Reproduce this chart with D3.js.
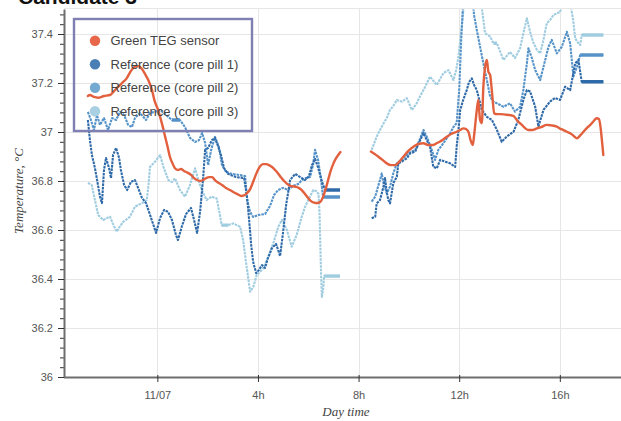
<!DOCTYPE html>
<html>
<head>
<meta charset="utf-8">
<script src="https://cdn.jsdelivr.net/npm/d3@7"></script>
<style>
  html, body { margin: 0; padding: 0; background: #fff; }
  svg { display: block; }
</style>
</head>
<body>
<svg id="chart" width="621" height="421"></svg>
<script>
// Hours are counted from midnight of 11/07; a null temperature marks a recording gap.
const seriesNames = ["Green TEG sensor", "Reference (core pill 1)", "Reference (core pill 2)", "Reference (core pill 3)"];
const seriesColors = ["#e2603d", "#2f6aa8", "#5592c8", "#a0cce0"];
const legendColors = ["#e8674a", "#4a7fb6", "#74a9d2", "#a9d0e2"];

const tegSensor = [
  [-2.76,37.147],[-2.68,37.151],[-2.52,37.143],[-2.36,37.140],[-2.12,37.147],[-1.88,37.151],[-1.72,37.167],
  [-1.56,37.184],[-1.40,37.200],[-1.22,37.219],[-1.05,37.249],[-0.89,37.267],[-0.73,37.269],[-0.61,37.257],
  [-0.49,37.237],[-0.36,37.212],[-0.21,37.171],[-0.12,37.131],[0.03,37.090],[0.11,37.062],[0.21,37.024],
  [0.31,36.981],[0.41,36.939],[0.50,36.899],[0.60,36.873],[0.70,36.852],[0.82,36.845],[0.94,36.849],
  [1.06,36.841],[1.18,36.835],[1.34,36.825],[1.46,36.812],[1.58,36.804],[1.70,36.800],[1.82,36.804],
  [1.94,36.812],[2.06,36.816],[2.18,36.816],[2.29,36.804],[2.41,36.794],[2.57,36.784],[2.73,36.771],
  [2.89,36.763],[3.05,36.753],[3.21,36.745],[3.33,36.739],[3.45,36.741],[3.57,36.751],[3.69,36.767],
  [3.79,36.792],[3.88,36.816],[3.98,36.841],[4.08,36.859],[4.20,36.869],[4.32,36.869],[4.44,36.865],
  [4.56,36.857],[4.68,36.845],[4.80,36.831],[4.92,36.814],[5.04,36.800],[5.16,36.788],[5.28,36.780],
  [5.40,36.778],[5.52,36.776],[5.64,36.771],[5.76,36.761],[5.87,36.747],[5.99,36.731],[6.11,36.718],
  [6.23,36.712],[6.35,36.710],[6.47,36.714],[6.59,36.735],[6.69,36.767],[6.79,36.804],[6.89,36.841],
  [6.99,36.869],[7.09,36.890],[7.19,36.906],[7.28,36.918],
  [7.90,null],
  [8.49,36.920],[8.64,36.910],[8.79,36.899],[8.95,36.886],[9.12,36.872],[9.29,36.865],[9.45,36.865],
  [9.61,36.878],[9.78,36.899],[9.97,36.922],[10.18,36.940],[10.37,36.951],[10.58,36.954],[10.76,36.947],
  [10.97,36.947],[11.12,36.955],[11.24,36.961],[11.38,36.971],[11.51,36.981],[11.68,36.992],[11.90,37.001],
  [12.04,37.008],[12.17,37.015],[12.27,37.012],[12.37,37.000],[12.45,36.967],[12.54,36.947],[12.59,36.984],
  [12.63,37.022],[12.70,37.090],[12.76,37.131],[12.80,37.082],[12.83,37.049],[12.90,37.036],[12.96,37.185],
  [13.03,37.267],[13.10,37.294],[13.16,37.246],[13.23,37.233],[13.28,37.188],[13.32,37.144],[13.39,37.076],
  [13.51,37.073],[13.63,37.073],[13.83,37.071],[14.02,37.069],[14.16,37.065],[14.29,37.049],[14.38,37.039],
  [14.49,37.029],[14.62,37.016],[14.75,37.008],[14.90,37.008],[15.09,37.015],[15.26,37.020],[15.48,37.029],
  [15.65,37.027],[15.88,37.022],[16.01,37.014],[16.14,37.008],[16.28,37.001],[16.41,36.995],[16.55,36.984],
  [16.68,36.974],[16.81,36.986],[16.94,37.001],[17.07,37.016],[17.21,37.029],[17.33,37.043],[17.47,37.056],
  [17.55,37.053],[17.60,37.033],[17.64,37.000],[17.68,36.959],[17.73,36.906]
];

const corePill1 = [
  [-2.76,37.049],[-2.68,36.967],[-2.60,36.906],[-2.48,36.853],[-2.36,36.784],[-2.28,36.735],[-2.20,36.710],
  [-2.12,36.845],[-2.04,36.894],[-1.92,36.853],[-1.84,36.812],[-1.76,36.906],[-1.64,36.935],[-1.52,36.894],
  [-1.45,36.845],[-1.32,36.784],[-1.20,36.763],[-1.05,36.796],[-0.89,36.804],[-0.73,36.763],[-0.61,36.731],
  [-0.45,36.710],[-0.33,36.674],[-0.17,36.625],[-0.05,36.588],[0.11,36.649],[0.27,36.682],[0.43,36.674],
  [0.58,36.641],[0.74,36.580],[0.82,36.559],[0.98,36.616],[1.14,36.665],[1.34,36.690],[1.46,36.641],
  [1.58,36.588],[1.70,36.674],[1.82,36.812],[1.90,36.927],[2.02,36.935],[2.17,36.967],[2.29,36.976],
  [2.41,36.943],[2.53,36.906],[2.65,36.853],[2.81,36.829],[3.13,36.816],[3.45,36.812],[3.57,36.731],
  [3.65,36.641],[3.73,36.539],[3.81,36.469],[3.93,36.424],[4.04,36.437],[4.16,36.457],[4.28,36.445],
  [4.40,36.486],[4.56,36.527],[4.72,36.543],[4.88,36.494],[5.00,36.592],[5.12,36.702],[5.28,36.804],
  [5.48,36.829],[5.68,36.816],[5.87,36.804],[6.03,36.820],[6.15,36.865],[6.27,36.890],[6.39,36.855],
  [6.55,36.796],[6.67,36.763],[7.26,36.763],
  [7.90,null],
  [8.52,36.648],[8.66,36.654],[8.72,36.709],[8.85,36.722],[8.99,36.777],[9.05,36.812],[9.12,36.755],
  [9.18,36.722],[9.25,36.709],[9.38,36.791],[9.52,36.817],[9.58,36.872],[9.72,36.879],[9.92,36.893],
  [10.05,36.913],[10.25,36.920],[10.45,36.967],[10.58,36.995],[10.71,36.967],[10.84,36.940],[10.97,36.858],
  [11.11,36.852],[11.24,36.886],[11.44,36.879],[11.64,36.872],[11.84,36.858],[11.90,36.940],[11.97,37.008],
  [12.04,37.090],[12.16,37.131],[12.30,37.171],[12.39,37.204],[12.50,37.219],[12.59,37.192],[12.70,37.171],
  [12.90,37.090],[13.10,37.062],[13.30,37.049],[13.50,37.008],[13.69,36.960],[13.89,36.981],[14.16,37.001],
  [14.35,37.049],[14.55,37.131],[14.69,37.171],[14.82,37.165],[15.02,37.103],[15.15,37.022],[15.35,37.090],
  [15.61,37.124],[15.81,37.139],[16.01,37.131],[16.21,37.185],[16.41,37.171],[16.61,37.280],[16.74,37.294],
  [16.87,37.205],[17.73,37.205]
];

const corePill2 = [
  [-2.76,37.082],[-2.64,37.049],[-2.52,37.008],[-2.40,37.069],[-2.28,37.029],[-2.12,37.057],[-1.96,37.008],
  [-1.80,37.057],[-1.64,37.049],[-1.48,37.082],[-1.32,37.069],[-1.16,37.029],[-1.01,37.020],[-0.89,37.057],
  [-0.69,37.078],[-0.45,37.049],[-0.29,37.078],[-0.09,37.082],[0.11,37.090],[0.35,37.069],[0.58,37.049],
  [0.90,37.049],[1.10,37.020],[1.30,36.976],[1.50,36.959],[1.66,36.967],[1.78,36.996],[1.90,36.955],
  [2.02,36.865],[2.14,36.927],[2.29,36.980],[2.45,36.939],[2.57,36.865],[2.73,36.837],[2.97,36.829],
  [3.29,36.824],[3.49,36.820],[3.57,36.722],[3.69,36.673],[3.81,36.653],[4.00,36.661],[4.28,36.665],
  [4.48,36.698],[4.64,36.743],[4.80,36.763],[5.00,36.772],[5.20,36.763],[5.40,36.780],[5.60,36.788],
  [5.75,36.804],[5.91,36.812],[6.07,36.816],[6.19,36.865],[6.27,36.927],[6.39,36.886],[6.51,36.804],
  [6.59,36.735],[7.26,36.735],
  [7.90,null],
  [8.52,36.716],[8.66,36.736],[8.85,36.804],[8.92,36.831],[8.99,36.791],[9.12,36.750],[9.25,36.777],
  [9.38,36.831],[9.52,36.872],[9.72,36.886],[9.98,36.913],[10.25,36.927],[10.45,36.974],[10.58,37.008],
  [10.71,36.981],[10.91,36.927],[11.04,36.886],[11.17,36.927],[11.37,36.954],[11.64,36.995],[11.77,37.020],
  [11.90,37.037],[12.00,37.171],[12.08,37.376],[12.16,37.539],[12.35,37.620],[12.51,37.559],[12.59,37.478],
  [12.70,37.416],[12.83,37.348],[12.96,37.280],[13.10,37.212],[13.23,37.144],[13.36,37.124],[13.50,37.117],
  [13.76,37.103],[14.02,37.117],[14.22,37.083],[14.42,37.103],[14.55,37.171],[14.69,37.280],[14.75,37.342],
  [14.89,37.301],[15.02,37.253],[15.22,37.212],[15.35,37.266],[15.55,37.348],[15.68,37.376],[15.88,37.321],
  [16.08,37.348],[16.28,37.409],[16.41,37.362],[16.54,37.226],[16.68,37.267],[16.81,37.314],[17.73,37.314]
];

const corePill3 = [
  [-2.76,36.792],[-2.61,36.784],[-2.48,36.722],[-2.35,36.661],[-2.15,36.641],[-2.00,36.649],[-1.88,36.654],
  [-1.76,36.624],[-1.61,36.593],[-1.48,36.616],[-1.35,36.634],[-1.20,36.645],[-1.09,36.654],[-0.89,36.695],
  [-0.62,36.709],[-0.42,36.722],[-0.35,36.784],[-0.29,36.858],[-0.09,36.879],[0.11,36.906],[0.24,36.858],
  [0.44,36.804],[0.58,36.796],[0.70,36.811],[0.90,36.763],[1.10,36.736],[1.30,36.784],[1.50,36.852],
  [1.63,36.804],[1.77,36.763],[1.96,36.722],[2.16,36.736],[2.36,36.729],[2.45,36.682],[2.56,36.620],
  [2.82,36.620],[3.02,36.627],[3.29,36.613],[3.41,36.559],[3.55,36.450],[3.69,36.348],[3.82,36.369],
  [3.95,36.416],[4.08,36.429],[4.21,36.444],[4.41,36.491],[4.61,36.546],[4.81,36.613],[4.95,36.641],
  [5.15,36.600],[5.34,36.532],[5.54,36.580],[5.74,36.654],[5.87,36.694],[6.00,36.722],[6.20,36.763],
  [6.31,36.759],[6.41,36.747],[6.45,36.661],[6.48,36.539],[6.51,36.416],[6.54,36.327],[6.59,36.355],
  [6.63,36.412],[7.26,36.412],
  [7.90,null],
  [8.52,36.927],[8.72,36.981],[8.85,37.008],[8.99,37.035],[9.12,37.057],[9.25,37.090],[9.38,37.106],
  [9.52,37.131],[9.72,37.124],[9.92,37.138],[10.12,37.090],[10.31,37.117],[10.45,37.147],[10.58,37.171],
  [10.84,37.226],[11.11,37.192],[11.37,37.240],[11.57,37.253],[11.77,37.212],[11.88,37.253],[11.97,37.307],
  [12.10,37.430],[12.19,37.518],[12.35,37.600],[12.59,37.620],[12.75,37.580],[12.90,37.505],[13.03,37.403],
  [13.23,37.389],[13.36,37.362],[13.50,37.362],[13.76,37.294],[14.02,37.327],[14.22,37.302],[14.42,37.342],
  [14.55,37.403],[14.69,37.464],[14.82,37.408],[14.94,37.367],[15.09,37.335],[15.22,37.321],[15.35,37.376],
  [15.48,37.444],[15.61,37.457],[15.75,37.478],[16.01,37.490],[16.14,37.539],[16.29,37.559],[16.41,37.531],
  [16.53,37.457],[16.61,37.382],[16.74,37.362],[16.81,37.355],[16.87,37.396],[17.73,37.396]
];

const xTickValues = [0, 4, 8, 12, 16];
const xTickLabels = ["11/07", "4h", "8h", "12h", "16h"];
const yTickValues = [36, 36.2, 36.4, 36.6, 36.8, 37, 37.2, 37.4];

const svg = d3.select("#chart");
const frame = { left: 64, right: 628, top: 9.5, bottom: 377 };

const x = d3.scaleLinear().domain([-3.71, 18.71]).range([frame.left, frame.right]);
const y = d3.scaleLinear().domain([36, 37.5]).range([frame.bottom, frame.top]);

// title, mostly above the visible frame
svg.append("text")
  .attr("x", 18).attr("y", 4)
  .attr("font-family", "Liberation Sans, Arial, sans-serif")
  .attr("font-weight", "bold").attr("font-size", 21)
  .attr("fill", "#111")
  .text("Candidate 3");

// grid
const grid = svg.append("g").attr("stroke", "#e6e6e6").attr("stroke-width", 1);
grid.append("line").attr("x1", frame.left).attr("x2", frame.right).attr("y1", 8.5).attr("y2", 8.5);
xTickValues.forEach(v => grid.append("line")
  .attr("x1", Math.round(x(v)) + 0.5).attr("x2", Math.round(x(v)) + 0.5)
  .attr("y1", 8.5).attr("y2", frame.bottom));
yTickValues.filter(v => v > 36).forEach(v => grid.append("line")
  .attr("x1", frame.left).attr("x2", frame.right)
  .attr("y1", Math.round(y(v)) + 0.5).attr("y2", Math.round(y(v)) + 0.5));

// data
svg.append("clipPath").attr("id", "plotClip")
  .append("rect").attr("x", frame.left).attr("y", frame.top)
  .attr("width", frame.right - frame.left).attr("height", frame.bottom - frame.top);
const plot = svg.append("g").attr("clip-path", "url(#plotClip)");

const line = d3.line()
  .defined(d => d[1] !== null)
  .x(d => x(d[0])).y(d => y(d[1]));

// constant stretches at the end of each recording are drawn heavier
function holdRuns(data) {
  const runs = [];
  for (let i = 1; i < data.length; i++) {
    if (data[i][1] !== null && data[i - 1][1] !== null && data[i][1] === data[i - 1][1]) {
      runs.push([data[i - 1], data[i]]);
    }
  }
  return runs;
}

const pills = [corePill3, corePill2, corePill1];
const pillColors = [seriesColors[3], seriesColors[2], seriesColors[1]];
pills.forEach((data, i) => {
  plot.append("path")
    .datum(data)
    .attr("d", line)
    .attr("fill", "none")
    .attr("stroke", pillColors[i])
    .attr("stroke-width", 2.1)
    .attr("stroke-dasharray", "2.6 0.9")
    .attr("stroke-linejoin", "round");
  holdRuns(data).forEach(run => plot.append("path")
    .datum(run)
    .attr("d", line)
    .attr("fill", "none")
    .attr("stroke", pillColors[i])
    .attr("stroke-width", 3.4));
});

const smoothLine = d3.line()
  .defined(d => d[1] !== null)
  .x(d => x(d[0])).y(d => y(d[1]))
  .curve(d3.curveMonotoneX);

plot.append("path")
  .datum(tegSensor)
  .attr("d", smoothLine)
  .attr("fill", "none")
  .attr("stroke", seriesColors[0])
  .attr("stroke-width", 2.4)
  .attr("stroke-linejoin", "round")
  .attr("stroke-linecap", "round");

// axes
const axisFont = "Liberation Sans, Arial, sans-serif";

const yMinor = d3.range(0, 38).map(i => +(36 + i * 0.04).toFixed(2));
svg.append("g")
  .attr("transform", `translate(${frame.left},0)`)
  .call(d3.axisLeft(y).tickValues(yMinor).tickSize(4).tickFormat(""))
  .call(g => g.select(".domain").remove())
  .call(g => g.selectAll("line").attr("stroke", "#333"));

const yAxis = svg.append("g")
  .attr("transform", `translate(${frame.left},0)`)
  .call(d3.axisLeft(y).tickValues(yTickValues).tickSize(6).tickPadding(5)
    .tickFormat(d => String(+d.toFixed(1))));
yAxis.select(".domain").attr("stroke", "#6e6e6e").attr("stroke-width", 2)
  .attr("d", `M0.5,${frame.top}V${frame.bottom}`);
yAxis.selectAll(".tick line").attr("stroke", "#333");
yAxis.selectAll(".tick text").attr("font-family", axisFont).attr("font-size", 11).attr("fill", "#555");

const xAxis = svg.append("g")
  .attr("transform", `translate(0,${frame.bottom})`)
  .call(d3.axisBottom(x).tickValues(xTickValues).tickSize(5).tickPadding(9)
    .tickFormat((d, i) => xTickLabels[i]));
xAxis.select(".domain").attr("stroke", "#6e6e6e").attr("stroke-width", 2)
  .attr("d", `M${frame.left},0.5H${frame.right}`);
xAxis.selectAll(".tick line").attr("stroke", "#333").attr("y1", -2);
xAxis.selectAll(".tick text").attr("font-family", axisFont).attr("font-size", 11).attr("fill", "#555");

// axis titles
svg.append("text")
  .attr("x", 346).attr("y", 416)
  .attr("text-anchor", "middle")
  .attr("font-family", "Liberation Serif, Times New Roman, serif")
  .attr("font-style", "italic").attr("font-size", 13).attr("fill", "#444")
  .text("Day time");

svg.append("text")
  .attr("transform", "translate(23,191) rotate(-90)")
  .attr("text-anchor", "middle")
  .attr("font-family", "Liberation Serif, Times New Roman, serif")
  .attr("font-style", "italic").attr("font-size", 13).attr("fill", "#444")
  .text("Temperature, °C");

// legend
const legend = svg.append("g");
legend.append("rect")
  .attr("x", 74).attr("y", 19).attr("width", 178).attr("height", 112)
  .attr("fill", "none").attr("stroke", "#7f7fb4").attr("stroke-width", 2.4);
seriesNames.forEach((name, i) => {
  const cy = 40.7 + i * 23.5;
  legend.append("circle").attr("cx", 95).attr("cy", cy).attr("r", 5.2).attr("fill", legendColors[i]);
  legend.append("text")
    .attr("x", 110.5).attr("y", cy + 4.5)
    .attr("font-family", axisFont).attr("font-size", 13).attr("fill", "#444")
    .text(name);
});
</script>
</body>
</html>
